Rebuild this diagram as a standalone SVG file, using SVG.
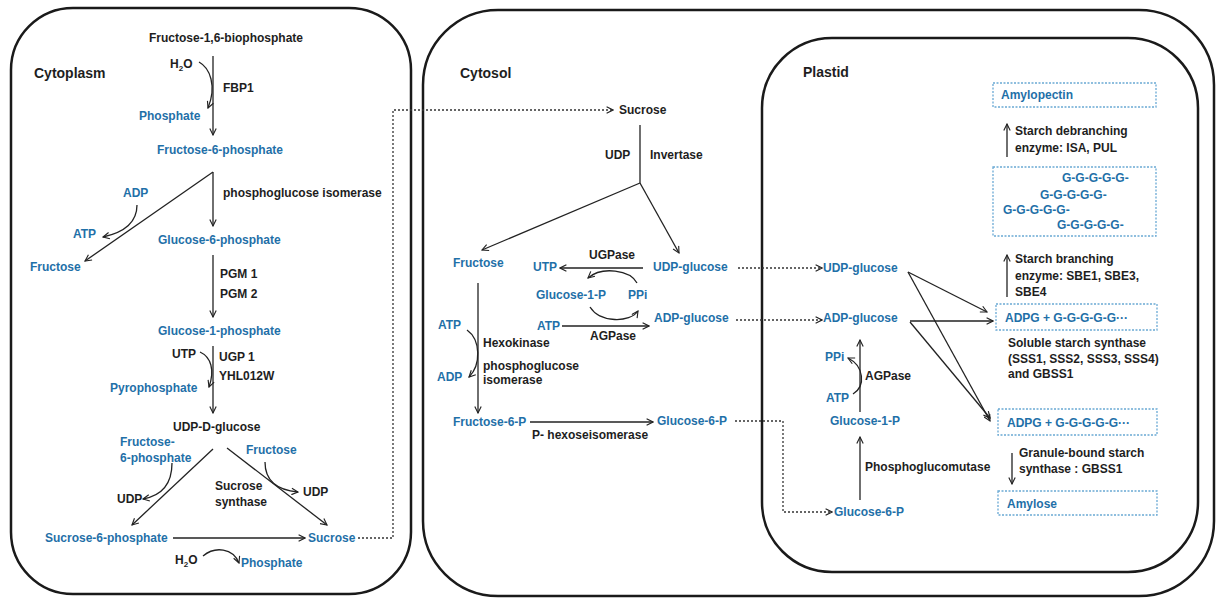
<svg xmlns="http://www.w3.org/2000/svg" width="1218" height="599" viewBox="0 0 1218 599">
<defs>
<marker id="ah" viewBox="0 0 10 10" refX="9" refY="5" markerWidth="8" markerHeight="8" markerUnits="userSpaceOnUse" orient="auto">
<path d="M1,1 L9,5 L1,9" fill="none" stroke="#222" stroke-width="1.4"/>
</marker>
<style>
.t{font-family:"Liberation Sans",Arial,sans-serif;font-weight:bold;font-size:12px;fill:#1e1e1e}
.b{fill:#1f70a8}
.h{font-size:14px}
.pn{fill:none;stroke:#1a1a1a;stroke-width:2.5}
.ln{fill:none;stroke:#222;stroke-width:1.3}
.ar{fill:none;stroke:#222;stroke-width:1.3;marker-end:url(#ah)}
.dt{fill:none;stroke:#333;stroke-width:1.3;stroke-dasharray:2 2;marker-end:url(#ah)}
.bx{fill:none;stroke:#6aa9d4;stroke-width:1.3;stroke-dasharray:2 1.5}
</style>
</defs>
<rect width="1218" height="599" fill="#fff"/>

<g id="panels">
<rect id="cytoplasm-panel" class="pn" x="11" y="8" width="400" height="586" rx="62"/>
<rect id="cytosol-panel" class="pn" x="423" y="10" width="791" height="586" rx="75"/>
<rect id="plastid-panel" class="pn" x="762" y="38" width="436" height="534" rx="70"/>
<text class="t h" x="34" y="78">Cytoplasm</text>
<text class="t h" x="460" y="78">Cytosol</text>
<text class="t h" x="803" y="77">Plastid</text>
</g>

<g id="connectors">
<!-- cytoplasm -->
<path class="ar" d="M213,56 V135"/>
<path class="ar" d="M199,62 C210,68 217,86 208,108"/>
<path class="ar" d="M213,172 L85,261"/>
<path class="ar" d="M213,172 V226"/>
<path class="ar" d="M137,205 C137,222 126,232 103,237"/>
<path class="ar" d="M213,255 V317"/>
<path class="ar" d="M213,346 V413"/>
<path class="ar" d="M200,352 C211,357 215,370 209,387"/>
<path class="ar" d="M213,449 L132,525"/>
<path class="ar" d="M227,448 L327,525"/>
<path class="ar" d="M172,463 C172,480 165,495 143,499"/>
<path class="ar" d="M265,462 C265,480 276,490 298,492"/>
<path class="ar" d="M173,538 H305"/>
<path class="ar" d="M203,556 C215,546 233,548 239,563"/>
<path class="dt" d="M358,538 H393 V110 H613"/>
<!-- cytosol -->
<path class="ln" d="M640,125 V183"/>
<path class="ar" d="M640,183 L482,250"/>
<path class="ar" d="M640,183 L679,253"/>
<path class="ar" d="M643,268 H560"/>
<path class="ar" d="M637,283 C630,270 602,266 588,278"/>
<path class="ar" d="M590,307 C600,323 630,323 638,311"/>
<path class="ar" d="M562,326 H649"/>
<path class="ar" d="M478,283 V413"/>
<path class="ar" d="M467,330 C481,340 481,365 469,377"/>
<path class="ar" d="M530,422 H653"/>
<path class="dt" d="M738,268 H822"/>
<path class="dt" d="M736,320 H822"/>
<path class="dt" d="M735,421 H783 V512 H832"/>
<!-- plastid -->
<path class="ar" d="M908,272 L987,312"/>
<path class="ar" d="M908,272 L990,421"/>
<path class="ar" d="M910,321 H993"/>
<path class="ar" d="M910,322 L990,418"/>
<path class="ar" d="M860,412 V340"/>
<path class="ar" d="M853,394 C866,386 864,366 848,358"/>
<path class="ar" d="M860,500 V437"/>
<path class="ar" d="M1007,157 V124"/>
<path class="ar" d="M1007,297 V255"/>
<path class="ar" d="M1012,453 V484"/>
</g>

<!-- Cytoplasm nodes -->
<g id="f16bp"><text class="t" x="226" y="42" text-anchor="middle">Fructose-1,6-biophosphate</text></g>
<g id="h2o-1"><text class="t" x="170" y="68">H<tspan font-size="8" dy="3">2</tspan><tspan dy="-3">O</tspan></text></g>
<g id="fbp1"><text class="t" x="223" y="92">FBP1</text></g>
<g id="phosphate-1"><text class="t b" x="139" y="120">Phosphate</text></g>
<g id="f6p-1"><text class="t b" x="157" y="154">Fructose-6-phosphate</text></g>
<g id="adp-1"><text class="t b" x="123" y="197">ADP</text></g>
<g id="pgi-1"><text class="t" x="223" y="197">phosphoglucose isomerase</text></g>
<g id="atp-1"><text class="t b" x="73" y="238">ATP</text></g>
<g id="fructose-1"><text class="t b" x="30" y="271">Fructose</text></g>
<g id="g6p-1"><text class="t b" x="158" y="244">Glucose-6-phosphate</text></g>
<g id="pgm"><text class="t" x="220" y="278">PGM 1</text><text class="t" x="220" y="298">PGM 2</text></g>
<g id="g1p-1"><text class="t b" x="158" y="335">Glucose-1-phosphate</text></g>
<g id="utp-1"><text class="t" x="172" y="358">UTP</text></g>
<g id="ugp1"><text class="t" x="219" y="361">UGP 1</text><text class="t" x="219" y="380">YHL012W</text></g>
<g id="pyrophosphate"><text class="t b" x="110" y="392">Pyrophosphate</text></g>
<g id="udpdglc"><text class="t" x="173" y="431">UDP-D-glucose</text></g>
<g id="f6p-2"><text class="t b" x="120" y="446">Fructose-</text><text class="t b" x="120" y="462">6-phosphate</text></g>
<g id="fructose-2"><text class="t b" x="246" y="454">Fructose</text></g>
<g id="sus"><text class="t" x="215" y="490">Sucrose</text><text class="t" x="215" y="506">synthase</text></g>
<g id="udp-1"><text class="t" x="117" y="503">UDP</text></g>
<g id="udp-2"><text class="t" x="303" y="496">UDP</text></g>
<g id="s6p"><text class="t b" x="45" y="542">Sucrose-6-phosphate</text></g>
<g id="sucrose-1"><text class="t b" x="308" y="542">Sucrose</text></g>
<g id="h2o-2"><text class="t" x="175" y="564">H<tspan font-size="8" dy="3">2</tspan><tspan dy="-3">O</tspan></text></g>
<g id="phosphate-2"><text class="t b" x="241" y="567">Phosphate</text></g>

<!-- Cytosol nodes -->
<g id="sucrose-2"><text class="t" x="619" y="114">Sucrose</text></g>
<g id="udp-3"><text class="t" x="605" y="159">UDP</text></g>
<g id="invertase"><text class="t" x="650" y="159">Invertase</text></g>
<g id="fructose-3"><text class="t b" x="453" y="267">Fructose</text></g>
<g id="utp-2"><text class="t b" x="533" y="271">UTP</text></g>
<g id="ugpase"><text class="t" x="589" y="259">UGPase</text></g>
<g id="udpglc-1"><text class="t b" x="653" y="271">UDP-glucose</text></g>
<g id="g1p-2"><text class="t b" x="536" y="299">Glucose-1-P</text></g>
<g id="ppi-1"><text class="t b" x="628" y="299">PPi</text></g>
<g id="atp-2"><text class="t b" x="438" y="329">ATP</text></g>
<g id="atp-3"><text class="t b" x="537" y="330">ATP</text></g>
<g id="agpase-1"><text class="t" x="590" y="340">AGPase</text></g>
<g id="adpglc-1"><text class="t b" x="654" y="322">ADP-glucose</text></g>
<g id="hexokinase"><text class="t" x="483" y="347">Hexokinase</text><text class="t" x="483" y="370">phosphoglucose</text><text class="t" x="483" y="384">isomerase</text></g>
<g id="adp-2"><text class="t b" x="437" y="381">ADP</text></g>
<g id="f6p-3"><text class="t b" x="453" y="426">Fructose-6-P</text></g>
<g id="g6p-2"><text class="t b" x="657" y="425">Glucose-6-P</text></g>
<g id="phi"><text class="t" x="532" y="439">P- hexoseisomerase</text></g>

<!-- Plastid nodes -->
<g id="udpglc-2"><text class="t b" x="823" y="272">UDP-glucose</text></g>
<g id="adpglc-2"><text class="t b" x="823" y="322">ADP-glucose</text></g>
<g id="ppi-2"><text class="t b" x="825" y="361">PPi</text></g>
<g id="atp-4"><text class="t b" x="826" y="402">ATP</text></g>
<g id="agpase-2"><text class="t" x="865" y="380">AGPase</text></g>
<g id="g1p-3"><text class="t b" x="830" y="425">Glucose-1-P</text></g>
<g id="pgmutase"><text class="t" x="865" y="471">Phosphoglucomutase</text></g>
<g id="g6p-3"><text class="t b" x="834" y="516">Glucose-6-P</text></g>
<g id="amylopectin"><rect class="bx" x="993" y="83" width="163" height="24"/><text class="t b" x="1001" y="99">Amylopectin</text></g>
<g id="debranch"><text class="t" x="1015" y="135">Starch debranching</text><text class="t" x="1015" y="152">enzyme: ISA, PUL</text></g>
<g id="glucan"><rect class="bx" x="993" y="167" width="163" height="69"/>
<text class="t b" x="1062" y="182">G-G-G-G-G-</text>
<text class="t b" x="1040" y="199">G-G-G-G-G-</text>
<text class="t b" x="1003" y="214">G-G-G-G-G-</text>
<text class="t b" x="1057" y="229">G-G-G-G-G-</text></g>
<g id="branch"><text class="t" x="1015" y="263">Starch branching</text><text class="t" x="1015" y="280">enzyme: SBE1, SBE3,</text><text class="t" x="1015" y="296">SBE4</text></g>
<g id="adpg-1"><rect class="bx" x="996" y="304" width="161" height="26"/><text class="t b" x="1005" y="322">ADPG + G-G-G-G-G···</text></g>
<g id="sss"><text class="t" x="1008" y="347">Soluble starch synthase</text><text class="t" x="1008" y="363">(SSS1, SSS2, SSS3, SSS4)</text><text class="t" x="1008" y="378">and GBSS1</text></g>
<g id="adpg-2"><rect class="bx" x="998" y="409" width="159" height="26"/><text class="t b" x="1007" y="427">ADPG + G-G-G-G-G···</text></g>
<g id="gbss"><text class="t" x="1019" y="457">Granule-bound starch</text><text class="t" x="1019" y="473">synthase : GBSS1</text></g>
<g id="amylose"><rect class="bx" x="998" y="491" width="159" height="24"/><text class="t b" x="1007" y="508">Amylose</text></g>
</svg>
